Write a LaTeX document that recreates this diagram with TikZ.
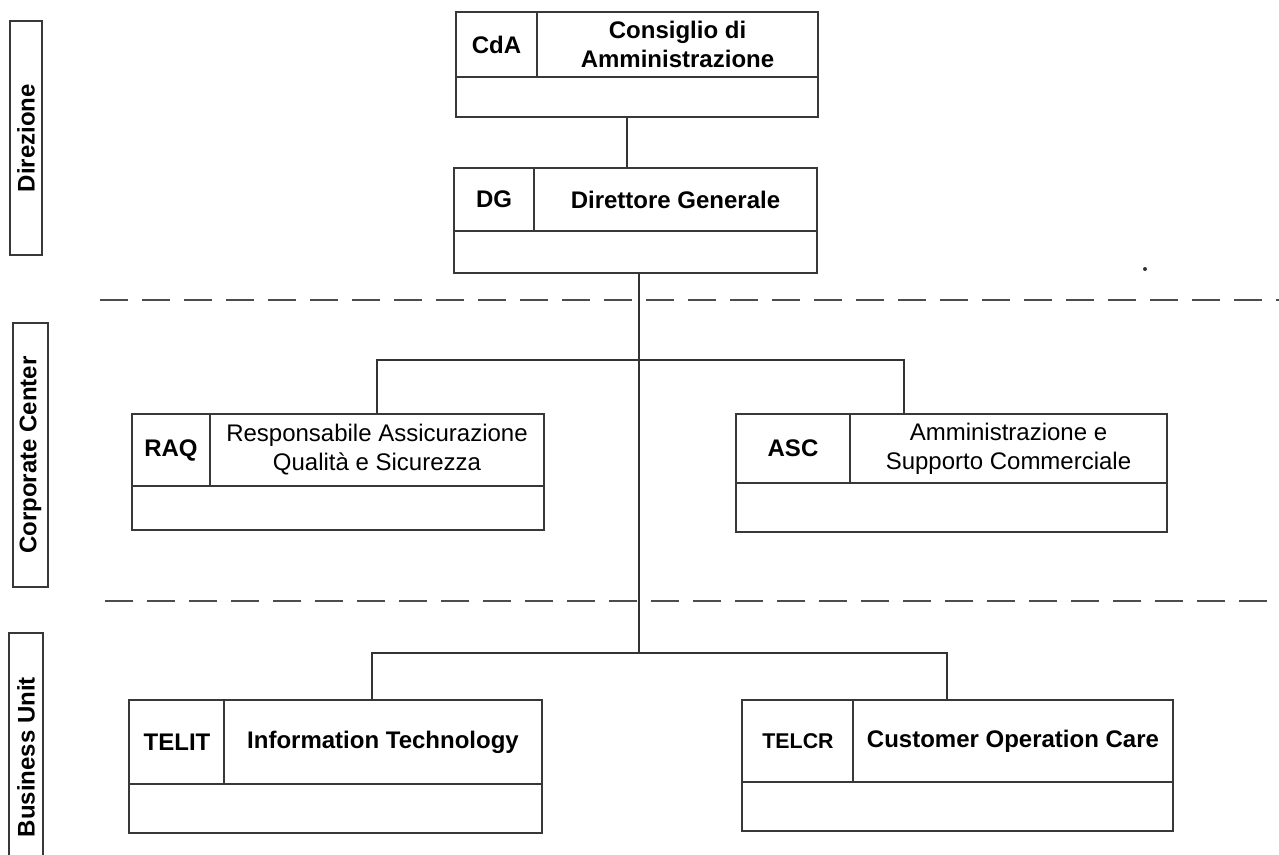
\documentclass[tikz,border=0pt]{standalone}
\usepackage{fontspec}
\setmainfont{Liberation Sans}
\begin{document}
\begin{tikzpicture}[x=0.75pt,y=-0.75pt,
  ln/.style={draw=black!78, line width=1pt},
  conn/.style={draw=black!80, line width=0.85pt},
  dashline/.style={draw=black!70, line width=1.4pt, dash pattern=on 21pt off 10.5pt},
  orgbox/.style n args={2}{ln, rectangle, minimum width={#1*0.75pt}, minimum height={#2*0.75pt}, inner sep=0pt},
  sidebox/.style n args={2}{ln, rectangle, rotate=90, minimum width={#1*0.75pt}, minimum height={#2*0.75pt}, inner sep=0pt, font=\fontsize{18}{20}\selectfont\bfseries},
  txt/.style={align=center, inner sep=0pt, font=\fontsize{18}{21.8}\selectfont},
  btxt/.style={align=center, inner sep=0pt, font=\fontsize{18}{21.8}\selectfont\bfseries}
]
\useasboundingbox (0,0) rectangle (1279,854);

% side labels
\node[sidebox={234}{32}] (sdir) at (26,138) {Direzione};
\node[sidebox={264}{35}] (scc) at (30.5,455) {Corporate Center};
\node[sidebox={248}{34}] (sbu) at (26,757) {Business Unit};

% dashed separators
\coordinate (d1s) at (100,300); \coordinate (d1e) at (1285,300);
\coordinate (d2s) at (105,601); \coordinate (d2e) at (1285,601);
\draw[dashline] (d1s) -- (d1e);
\draw[dashline] (d2s) -- (d2e);
\fill[black!80] (1145,269) circle[radius=1.5pt];

% CdA
\node[orgbox={362}{105}] (cda) at (637,64.5) {};
\draw[ln] (456,77) -- (818,77);
\draw[ln] (537,12) -- (537,77);
\node[btxt] (cdacode) at (496.5,44.5) {CdA};
\node[btxt] (cdatitle) at (677.5,44.5) {Consiglio di\\Amministrazione};

% DG
\node[orgbox={363}{105}] (dg) at (635.5,220.5) {};
\draw[ln] (454,231) -- (817,231);
\draw[ln] (534,168) -- (534,231);
\node[btxt] (dgcode) at (494,199.5) {DG};
\node[btxt] (dgtitle) at (675.5,199.5) {Direttore Generale};

% RAQ
\node[orgbox={412}{116}] (raq) at (338,472) {};
\draw[ln] (132,486) -- (544,486);
\draw[ln] (210,414) -- (210,486);
\node[btxt] (raqcode) at (171,450) {RAQ};
\node[txt] (raqtitle) at (377,450) {Responsabile Assicurazione\\Qualità e Sicurezza};

% ASC
\node[orgbox={431}{118}] (asc) at (951.5,473) {};
\draw[ln] (736,483) -- (1167,483);
\draw[ln] (850,414) -- (850,483);
\node[btxt] (asccode) at (793,448.5) {ASC};
\node[txt] (asctitle) at (1008.5,448.5) {Amministrazione e\\Supporto Commerciale};

% TELIT
\node[orgbox={413}{133}] (telit) at (335.5,766.5) {};
\draw[ln] (129,784) -- (542,784);
\draw[ln] (224,700) -- (224,784);
\node[btxt] (telitcode) at (177,742) {TELIT};
\node[btxt] (telittitle) at (383,742) {Information Technology};

% TELCR
\node[orgbox={431}{131}] (telcr) at (957.5,765.5) {};
\draw[ln] (742,782) -- (1173,782);
\draw[ln] (853,700) -- (853,782);
\node[btxt, font=\fontsize{16}{18}\selectfont\bfseries] (telcrcode) at (798,741) {TELCR};
\node[btxt] (telcrtitle) at (1013,741) {Customer Operation Care};

% connectors
\coordinate (j0) at (627,140);
\coordinate (jt) at (639,360);
\coordinate (jb) at (639,653);
\coordinate (raqc) at (377,360);
\coordinate (ascc) at (904,360);
\coordinate (telitc) at (372,653);
\coordinate (telcrc) at (947,653);
\draw[conn] (cda.south -| j0) -- (dg.north -| j0);
\draw[conn] (dg.south -| jt) -- (jb);
\draw[conn] (raq.north -| raqc) -- (raqc) -- (ascc) -- (asc.north -| ascc);
\draw[conn] (telit.north -| telitc) -- (telitc) -- (telcrc) -- (telcr.north -| telcrc);
\end{tikzpicture}
\end{document}
